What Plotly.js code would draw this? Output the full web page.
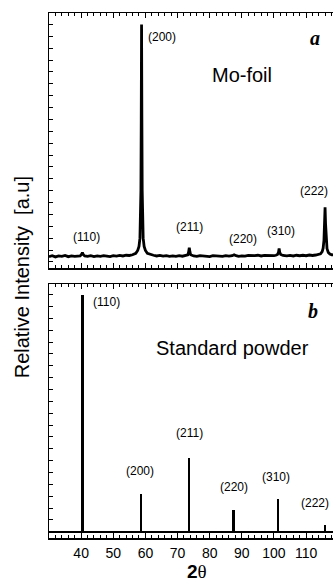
<!DOCTYPE html>
<html>
<head>
<meta charset="utf-8">
<script src="https://cdn.plot.ly/plotly-3.0.1.min.js"></script>
<style>
html,body{margin:0;padding:0;overflow:hidden;background:#fff;}
#chart{width:345px;height:584px;}
</style>
</head>
<body>
<div id="chart"></div>
<script>
// ---------- Data ----------
var foilTheta = [
  30, 31, 32, 33, 34, 35, 36, 37, 38, 39,
  39.7, 40.1, 40.4, 40.7, 41.1,
  42, 43, 44, 45, 46, 47, 48, 49, 50, 51, 52, 53, 54, 55, 56,
  57, 57.6, 58.0, 58.3, 58.5, 58.6, 58.7, 58.8, 58.9, 59.0, 59.1, 59.3, 59.6, 60.0, 60.6, 61.6,
  62.5, 63.5, 64.5, 65.5, 66.5, 67.5, 68.5, 69.5, 70.5, 71.5, 72.5,
  73.2, 73.45, 73.65, 73.85, 74.1,
  75, 76, 77, 78, 79, 80, 81, 82, 83, 84, 85, 86, 87,
  87.6, 88.2,
  89, 90, 91, 92, 93, 94, 95, 96, 97, 98, 99, 100,
  100.6, 101.1, 101.4, 101.6, 101.8, 102.1, 102.8,
  104, 105, 106, 107, 108, 109, 110, 111, 112, 113,
  113.8, 114.5, 115.0, 115.3, 115.55, 115.75, 115.9, 116.05, 116.25, 116.5, 116.9, 117.4, 118,
  119, 120, 121, 122
];
var foilIntensity = [
  2.2, 2.6, 2.1, 2.5, 2.3, 2.7, 2.2, 2.5, 2.3, 2.6,
  2.5, 3.1, 3.9, 3.0, 2.5,
  2.3, 2.6, 2.2, 2.5, 2.3, 2.6, 2.4, 2.2, 2.6, 2.4, 2.7, 2.5, 2.8, 2.7, 3.0,
  3.6, 4.8, 6.5, 10, 18, 30, 60, 100, 60, 30, 18, 10, 6.5, 4.8, 3.6, 3.0,
  2.8, 2.5, 2.7, 2.4, 2.6, 2.3, 2.5, 2.3, 2.6, 2.4, 2.6,
  3.0, 4.2, 6.0, 4.2, 3.0,
  2.5, 2.3, 2.6, 2.4, 2.5, 2.2, 2.6, 2.4, 2.5, 2.3, 2.6, 2.4, 2.6,
  3.0, 2.6,
  2.3, 2.5, 2.4, 2.7, 2.5, 2.6, 2.8, 2.5, 2.7, 2.6, 2.8, 2.6,
  2.8, 3.1, 4.0, 5.7, 4.0, 3.1, 2.7,
  2.5, 2.7, 2.5, 2.8, 2.6, 2.8, 2.6, 2.9, 2.7, 2.9,
  3.0, 3.4, 4.3, 5.8, 9, 16, 23, 16, 9, 5.6, 4.0, 3.3, 3.0,
  2.8, 2.9, 2.7, 2.8
];

// Panel b: standard powder reflections
var hkl = ["(110)", "(200)", "(211)", "(220)", "(310)", "(222)"];
var stdTheta = [40.4, 58.5, 73.6, 87.4, 101.3, 115.8];
var stdIntensity = [100, 16, 31, 9, 14, 3];

// Axis tick labels
var xTickVals = [40, 50, 60, 70, 80, 90, 100, 110];
var xTickText = ["40", "50", "60", "70", "80", "90", "100", "110"];

// Label positions (layout only)
var foilLabelX = [41.8, 65.1, 73.8, 90.3, 102.2, 112.5];
var foilLabelY = [10.6, 94.6, 14.8, 9.5, 13.1, 29.9];
var stdLabelX = [47.95, 58.2, 73.7, 87.5, 100.7, 112.7];
var stdLabelY = [97.1, 25.7, 41.6, 18.7, 23.1, 12.3];

// ---------- Plot ----------
var FONT = "Liberation Sans, Arial, sans-serif";

var traces = [
  {
    type: "scatter", mode: "lines",
    x: foilTheta, y: foilIntensity,
    xaxis: "x2", yaxis: "y2",
    line: {color: "#000", width: 2.8},
    hoverinfo: "skip", showlegend: false
  },
  {
    type: "bar",
    x: stdTheta, y: stdIntensity,
    xaxis: "x", yaxis: "y",
    width: 0.68,
    marker: {color: "#000", line: {width: 0}},
    hoverinfo: "skip", showlegend: false
  }
];

var xBase = {
  range: [30, 122.1],
  showgrid: false, zeroline: false,
  showline: true, linecolor: "#000", linewidth: 1.5,
  mirror: "ticks",
  ticks: "inside", ticklen: 5, tickwidth: 1, tickcolor: "#000",
  tickmode: "array", tickvals: xTickVals, ticktext: xTickText,
  minor: {dtick: 2, tick0: 0, ticks: "inside", ticklen: 3, tickwidth: 1, tickcolor: "#000"},
  fixedrange: true
};
var yBase = {
  showgrid: false,
  showline: true, linecolor: "#000", linewidth: 1.5,
  mirror: "ticks",
  ticks: "inside", ticklen: 4, tickwidth: 1, tickcolor: "#000",
  dtick: 5, tick0: 0,
  showticklabels: false,
  fixedrange: true
};

var annotations = [];
for (var i = 0; i < hkl.length; i++) {
  annotations.push({xref: "x2", yref: "y2", x: foilLabelX[i], y: foilLabelY[i], text: hkl[i],
    showarrow: false, font: {family: FONT, size: 12, color: "#000"}, xanchor: "center", yanchor: "middle"});
  annotations.push({xref: "x", yref: "y", x: stdLabelX[i], y: stdLabelY[i], text: hkl[i],
    showarrow: false, font: {family: FONT, size: 12, color: "#000"}, xanchor: "center", yanchor: "middle"});
}
annotations.push({xref: "x2", yref: "y2", x: 90.05, y: 78.8, text: "Mo-foil", showarrow: false,
  font: {family: FONT, size: 20, color: "#000"}, xanchor: "center", yanchor: "middle"});
annotations.push({xref: "x", yref: "y", x: 87.1, y: 77.4, text: "Standard powder", showarrow: false,
  font: {family: FONT, size: 20, color: "#000"}, xanchor: "center", yanchor: "middle"});
annotations.push({xref: "x2", yref: "y2", x: 112.8, y: 94.4, text: "<b><i>a</i></b>", showarrow: false,
  font: {family: "Liberation Serif, Times New Roman, serif", size: 20, color: "#000"}, xanchor: "center", yanchor: "middle"});
annotations.push({xref: "x", yref: "y", x: 112.1, y: 93.1, text: "<b><i>b</i></b>", showarrow: false,
  font: {family: "Liberation Serif, Times New Roman, serif", size: 20, color: "#000"}, xanchor: "center", yanchor: "middle"});
annotations.push({xref: "paper", yref: "paper", x: -0.0922, y: 0.496, textangle: -90,
  text: "Relative Intensity&nbsp; [a.u]", showarrow: false,
  font: {family: FONT, size: 20, color: "#000"}, xanchor: "center", yanchor: "middle"});
annotations.push({xref: "paper", yref: "paper", x: 0.5, y: -0.0874,
  text: "<b>2</b><span style=\"font-family:Liberation Serif\">θ</span>", showarrow: false,
  font: {family: FONT, size: 19, color: "#000"}, xanchor: "center", yanchor: "bottom"});

var layout = {
  width: 345, height: 584,
  margin: {l: 49, r: 0, t: 13, b: 46, pad: 0},
  paper_bgcolor: "#fff", plot_bgcolor: "#fff",
  showlegend: false,
  bargap: 0,
  font: {family: FONT, size: 14, color: "#000"},
  xaxis: Object.assign({}, xBase, {anchor: "y", domain: [0, 1], showticklabels: true,
    tickfont: {family: FONT, size: 14, color: "#000"}, ticklabelstandoff: 2}),
  yaxis: Object.assign({}, yBase, {anchor: "x", domain: [0, 0.4838], range: [-2.65, 104.5],
    zeroline: true, zerolinecolor: "#000", zerolinewidth: 2}),
  xaxis2: Object.assign({}, xBase, {anchor: "y2", matches: "x", showticklabels: false}),
  yaxis2: Object.assign({}, yBase, {anchor: "x2", domain: [0.5137, 1], range: [-2.7, 104.8], zeroline: false}),
  annotations: annotations
};

Plotly.newPlot("chart", traces, layout, {staticPlot: true, displayModeBar: false});
</script>
</body>
</html>
